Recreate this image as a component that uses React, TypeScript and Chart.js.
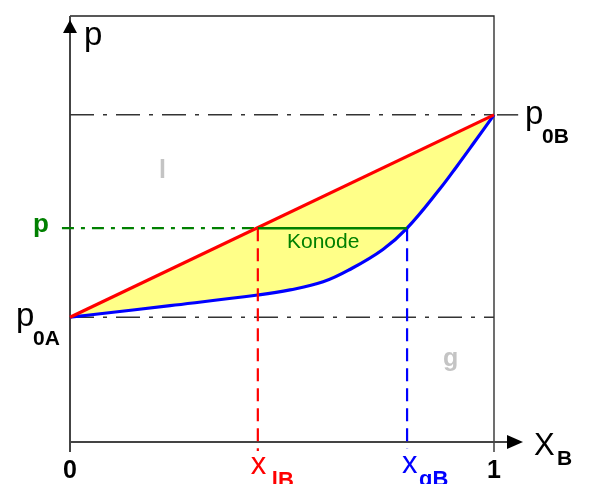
import React, { useEffect, useRef } from 'react';
import { Chart, registerables } from 'chart.js';

Chart.register(...registerables);

// Pressure–composition diagram (normalised units: 0..1 on both axes)
const liquidX = [0, 1];
const liquidP = [0.293, 0.768];
const vaporX = [0, 0.071, 0.236, 0.443, 0.519, 0.597, 0.66, 0.738, 0.795, 0.873, 0.913, 0.951, 1.0];
const vaporP = [0.293, 0.301, 0.32, 0.345, 0.357, 0.376, 0.405, 0.452, 0.502, 0.595, 0.648, 0.7, 0.768];
const p0A = 0.293;
const p0B = 0.768;
const pSys = 0.502;
const xLB = 0.443;
const xGB = 0.795;

const FONT = '"Liberation Sans", Arial, sans-serif';

const pts = (xs: number[], ys: number[]) => xs.map((x, i) => ({ x, y: ys[i] }));

const decorPlugin = {
  id: 'decor',
  beforeDatasetsDraw(chart: any) {
    const { ctx, scales } = chart;
    const xs = scales.x, ys = scales.y;
    const X0 = xs.getPixelForValue(0), X1 = xs.getPixelForValue(1);
    const Y0 = ys.getPixelForValue(0), YT = ys.getPixelForValue(1);
    ctx.save();
    // frame
    ctx.strokeStyle = '#222';
    ctx.lineWidth = 1.3;
    ctx.beginPath();
    ctx.moveTo(X0, YT); ctx.lineTo(X1, YT); ctx.lineTo(X1, Y0 + 10);
    ctx.stroke();
    // axes
    ctx.strokeStyle = '#444';
    ctx.fillStyle = '#000';
    ctx.lineWidth = 2;
    ctx.beginPath();
    ctx.moveTo(X0, Y0 + 10); ctx.lineTo(X0, YT);
    ctx.moveTo(X0, Y0); ctx.lineTo(X1 + 14, Y0);
    ctx.stroke();
    // y arrow
    ctx.beginPath();
    ctx.moveTo(X0, YT + 4); ctx.lineTo(X0 - 7, YT + 17); ctx.lineTo(X0 + 7, YT + 17); ctx.closePath();
    ctx.fill();
    // x arrow
    ctx.beginPath();
    ctx.moveTo(X1 + 29, Y0); ctx.lineTo(X1 + 13, Y0 - 7); ctx.lineTo(X1 + 13, Y0 + 7); ctx.closePath();
    ctx.fill();
    ctx.restore();
  },
  afterDraw(chart: any) {
    const { ctx, scales } = chart;
    const xs = scales.x, ys = scales.y;
    const X0 = xs.getPixelForValue(0), X1 = xs.getPixelForValue(1);
    const Y0 = ys.getPixelForValue(0), YT = ys.getPixelForValue(1);
    const yA = ys.getPixelForValue(p0A), yB = ys.getPixelForValue(p0B), yP = ys.getPixelForValue(pSys);
    const xl = xs.getPixelForValue(xLB), xg = xs.getPixelForValue(xGB);
    const t = (s: string, x: number, y: number, font: string, color: string, align: CanvasTextAlign = 'left') => {
      ctx.font = font + ' ' + FONT;
      ctx.fillStyle = color;
      ctx.textAlign = align;
      ctx.textBaseline = 'alphabetic';
      ctx.fillText(s, x, y);
    };
    ctx.save();
    // axis labels
    t('p', X0 + 14, YT + 29, '33px', '#000');
    t('X', X1 + 40, Y0 + 13, '31px', '#000');
    t('B', X1 + 63, Y0 + 23, 'bold 21px', '#000');
    t('0', X0, Y0 + 36, 'bold 25px', '#000', 'center');
    t('1', X1, Y0 + 36, 'bold 25px', '#000', 'center');
    // pure component pressures
    t('p', X1 + 31, yB + 9, '33px', '#000');
    t('0B', X1 + 48, yB + 28, 'bold 21px', '#000');
    t('p', 16, yA + 9, '33px', '#000');
    t('0A', 33, yA + 28, 'bold 21px', '#000');
    // system pressure
    t('p', 33, yP + 4, 'bold 26px', '#008000');
    t('Konode', 287, yP + 20, '21px', '#008000');
    // phase regions
    t('l', 159, 178, 'bold 25px', '#c4c4c4');
    t('g', 443, 366, 'bold 25px', '#c4c4c4');
    // compositions
    t('x', xl - 7, Y0 + 32, '31px', '#ff0000');
    t('lB', xl + 14, Y0 + 45, 'bold 22px', '#ff0000');
    t('x', xg - 5, Y0 + 31, '31px', '#0000ff');
    t('gB', xg + 12, Y0 + 44, 'bold 22px', '#0000ff');
    ctx.restore();
  },
};

export default function App() {
  const ref = useRef<HTMLCanvasElement | null>(null);
  useEffect(() => {
    if (!ref.current) return;
    const line = (data: any[], color: string, width: number, dash: number[], order: number, extra: any = {}) => ({
      data,
      showLine: true,
      borderColor: color,
      borderWidth: width,
      borderDash: dash,
      pointRadius: 0,
      fill: false,
      order,
      clip: false,
      ...extra,
    });
    const chart = new Chart(ref.current, {
      type: 'scatter',
      data: {
        datasets: [
          line(pts(liquidX, liquidP), '#ff0000', 3.2, [], 1),
          line(pts(vaporX, vaporP), '#0000ff', 3.2, [], 2, {
            fill: { target: 0 },
            backgroundColor: '#ffff88',
            tension: 0.4,
          }),
          line([{ x: 0, y: p0B }, { x: 1, y: p0B }], '#333', 1.5, [24, 9, 4, 9], 6),
          line([{ x: 1.007, y: p0B }, { x: 1.057, y: p0B }], '#333', 1.5, [], 6),
          line([{ x: 0, y: p0A }, { x: 1, y: p0A }], '#333', 1.5, [24, 9, 4, 9], 6),
          line([{ x: -0.019, y: pSys }, { x: xLB, y: pSys }], '#008000', 2.2, [12, 7, 4, 7], 5),
          line([{ x: xLB, y: pSys }, { x: xGB, y: pSys }], '#008000', 2.5, [], 0),
          line([{ x: xLB, y: pSys }, { x: xLB, y: -0.021 }], '#ff0000', 2.2, [13, 7], 0),
          line([{ x: xGB, y: pSys }, { x: xGB, y: -0.015 }], '#0000ff', 2.2, [13, 7], 0),
        ],
      },
      options: {
        animation: false,
        responsive: false,
        devicePixelRatio: 1,
        layout: { padding: { left: 70, right: 95, top: 16, bottom: 42 } },
        scales: {
          x: { type: 'linear', min: 0, max: 1, display: false },
          y: { type: 'linear', min: 0, max: 1, display: false },
        },
        plugins: { legend: { display: false }, tooltip: { enabled: false } },
        events: [],
      },
      plugins: [decorPlugin],
    } as any);
    return () => chart.destroy();
  }, []);
  return (
    <div style={{ position: 'absolute', left: 0, top: 0, width: 589, height: 484, background: '#fff' }}>
      <canvas ref={ref} width={589} height={484} style={{ display: 'block' }} />
    </div>
  );
}
